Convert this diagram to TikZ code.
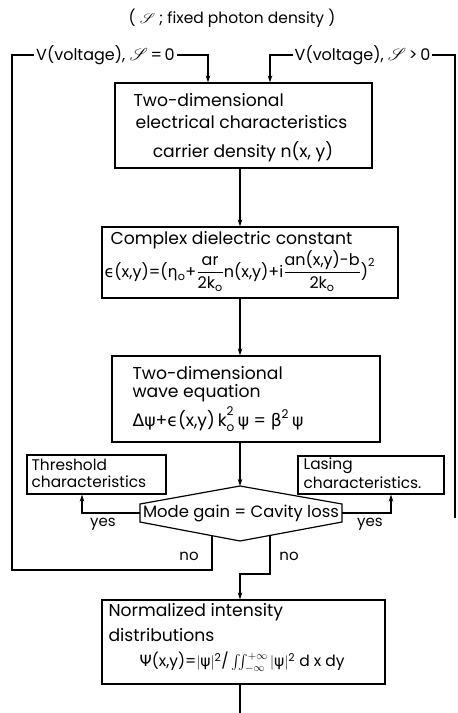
\documentclass[tikz,border=0pt]{standalone}
\usepackage{fontspec}
\usepackage{amsmath}
\usepackage{mathrsfs}
\setmainfont{Poppins}
\newfontfamily\gk{DejaVu Sans}
\usetikzlibrary{arrows.meta,calc}
\newcommand{\tx}[1]{\text{#1}}
\newcommand{\gr}[1]{\text{\gk #1}}
\begin{document}
\begin{tikzpicture}[x=1pt,y=-1pt,
  line width=1.2pt,
  arr/.style={-{Stealth[length=7pt,width=4.5pt]}},
  box/.style={draw,rectangle,inner sep=0pt},
  txt/.style={inner sep=0pt,anchor=west,font=\fontsize{17.2}{20}\selectfont},
  stxt/.style={inner sep=0pt,anchor=west,font=\fontsize{15.4}{18}\selectfont},
  lbl/.style={inner sep=0pt,font=\fontsize{15}{18}\selectfont},
  vlbl/.style={inner sep=2pt,fill=white,font=\fontsize{16}{18}\selectfont}]
\useasboundingbox (0,0) rectangle (458,713);
% axis
\coordinate (axis) at (240,0);
\node[lbl,font=\fontsize{15.5}{18}\selectfont] (title) at (232,18) {( $\mathscr{S}$ ; fixed photon density )};
% boxes
\node[box,minimum width=257pt,minimum height=85pt] (b1) at (243.5,125.5) {};
\node[box,minimum width=296pt,minimum height=71pt] (b2) at (250,262.5) {};
\node[box,minimum width=268pt,minimum height=86pt] (b3) at (246,399) {};
\node[box,minimum width=139pt,minimum height=39pt] (thr) at (96.5,474.5) {};
\node[box,minimum width=146pt,minimum height=38pt] (las) at (371,475) {};
\node[box,minimum width=283pt,minimum height=84pt] (b4) at (243.5,642) {};
% box texts
\node[txt] (t1a) at (133,100) {Two-dimensional};
\node[txt] (t1b) at (135,122) {electrical characteristics};
\node[txt,anchor=center] (t1c) at (243,152) {carrier density n(x, y)};
\node[txt] (t2a) at (110,240) {Complex dielectric constant};
\node[txt,font=\fontsize{16}{18}\selectfont] (t2b) at (104,271) {$\gr{ϵ}\tx{(x,y)=(}\gr{η}_{\tx{o}}\tx{+}\dfrac{\tx{ar}}{\tx{2k}_{\tx{o}}}\tx{n(x,y)+i}\dfrac{\tx{an(x,y)-b}}{\tx{2k}_{\tx{o}}}\tx{)}^{\tx{2}}$};
\node[txt] (t3a) at (132,373) {Two-dimensional};
\node[txt] (t3b) at (132,393) {wave equation};
\node[txt] (t3c) at (132,419) {$\gr{Δψ}\tx{+}\gr{ϵ}\tx{(x,y)\,k}_{\tx{o}}^{\tx{2}}\,\gr{ψ}\tx{ = }\gr{β}^{\tx{2}}\,\gr{ψ}$};
\node[stxt] (tta) at (31,465) {Threshold};
\node[stxt] (ttb) at (31,482) {characteristics};
\node[stxt] (tla) at (303,466) {Lasing};
\node[stxt] (tlb) at (303,483) {characteristics.};
\node[txt] (t4a) at (108,612) {Normalized intensity};
\node[txt] (t4b) at (108,635) {distributions};
\node[txt,font=\fontsize{15.5}{18}\selectfont] (t4c) at (139,662) {$\gr{Ψ}\tx{(x,y)=}|\gr{ψ}|^{\tx{2}}\tx{/}\iint_{-\infty}^{+\infty}|\gr{ψ}|^{\tx{2}}\tx{ d x dy}$};
% decision
\coordinate (dt) at (240,486);
\coordinate (dr1) at (342,504);
\coordinate (dr2) at (342,522);
\coordinate (db) at (240,541);
\coordinate (dl2) at (140,522);
\coordinate (dl1) at (140,504);
\coordinate (dl) at (140,513);
\coordinate (dr) at (342,513);
\draw (dt) -- (dr1) -- (dr2) -- (db) -- (dl2) -- (dl1) -- cycle;
\node[lbl,font=\fontsize{16.4}{18}\selectfont] (dec) at (241,513) {Mode gain = Cavity loss};
% main flow
\draw[arr] (b1.south -| axis) -- (b2.north -| axis);
\draw[arr] (b2.south -| axis) -- (b3.north -| axis);
\draw[arr] (b3.south -| axis) -- (dt);
% yes branches
\coordinate (xthr) at (82,0);
\coordinate (xlas) at (391,0);
\draw[arr] (dl) -| (xthr |- thr.south);
\draw[arr] (dr) -| (xlas |- las.south);
\node[lbl] (yesl) at (103,524) {yes};
\node[lbl] (yesr) at (370,524) {yes};
% no branches
\coordinate (nl) at ($(dl2)!0.72!(db)$);
\coordinate (nr) at ($(db)!0.294!(dr2)$);
\coordinate (c1) at (12,570);
\coordinate (c2) at (12,55);
\coordinate (c3) at (208,55);
\draw[arr] (nl) |- (c1) -- (c2) -- (c3) -- (c3 |- b1.north);
\coordinate (c4) at (240,574);
\draw[arr] (nr) |- (c4) -- (b4.north -| axis);
\node[lbl] (nol) at (189,556) {no};
\node[lbl] (nor) at (289,556) {no};
% right loop
\coordinate (r0) at (455,518);
\coordinate (r1) at (455,55);
\coordinate (r2) at (270,55);
\draw[arr] (r0) -- (r1) -- (r2) -- (r2 |- b1.north);
% bottom
\coordinate (bot) at (240,713);
\draw (b4.south -| axis) -- (bot);
% voltage labels
\node[vlbl] (v0) at (105.5,55) {V(voltage), $\mathscr{S}$\,=\,0};
\node[vlbl] (v1) at (362.5,55) {V(voltage), $\mathscr{S}$\,>\,0};
\end{tikzpicture}
\end{document}
